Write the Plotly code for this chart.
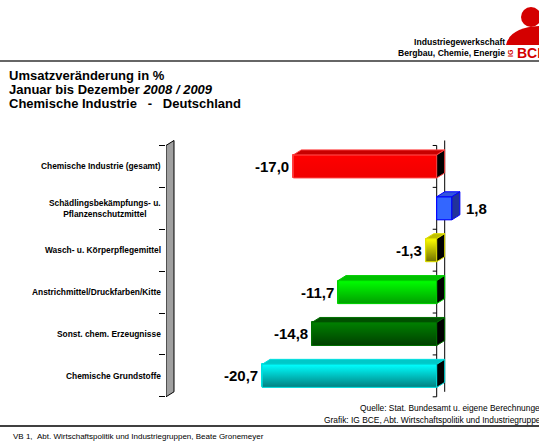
import plotly.graph_objects as go

# ---------------- data ----------------
categories = [
    "Chemische Industrie (gesamt)",
    "Schädlingsbekämpfungs- u.<br>Pflanzenschutzmittel",
    "Wasch- u. Körperpflegemittel",
    "Anstrichmittel/Druckfarben/Kitte",
    "Sonst. chem. Erzeugnisse",
    "Chemische Grundstoffe",
]
values = [-17.0, 1.8, -1.3, -11.7, -14.8, -20.7]

front_top = ["#FF0000", "#3366FF", "#FFFF00", "#00FF00", "#008000", "#00FFFF"]
front_bottom = ["#F00000", "#3366FF", "#707000", "#00A000", "#004000", "#008080"]
edge_colors = ["#FF4040", "#0000FF", "#E0E000", "#00D000", "#007000", "#00E0E0"]
top_colors = ["#C80000", "#3355DD", "#BDBD00", "#00C000", "#005000", "#00C8C8"]
side_colors = ["#000000", "#22339A", "#000000", "#000000", "#000000", "#000000"]

# ---------------- geometry ----------------
W, H = 539, 443
ML, MR, MT, MB = 166, 34, 135, 42
PW, PH = W - ML - MR, H - MT - MB
X_RANGE = [-32.1, 8.1]
Y_RANGE = [-0.6, 5.75]
XS = PW / (X_RANGE[1] - X_RANGE[0])   # px per unit
YS = PH / (Y_RANGE[1] - Y_RANGE[0])
DX = 8 / XS        # 3D depth
DY = 5 / YS
BW = 0.55          # bar thickness (category units)

n = len(categories)
ypos = [n - 1 - i for i in range(n)]


def px(x):
    return (x - ML) / PW


def py(y):
    return 1 - (y - MT) / PH


FONT = "Liberation Sans, Arial, sans-serif"

fig = go.Figure()

# base bars (front faces)
fig.add_trace(go.Bar(
    x=values, y=ypos, orientation="h", width=BW,
    marker=dict(color=front_top, line=dict(color=edge_colors, width=1)),
    hoverinfo="skip", showlegend=False,
))

for i, v in enumerate(values):
    yc = ypos[i]
    yb, yt = yc - BW / 2, yc + BW / 2
    x0, x1 = min(0, v), max(0, v)
    # gradient front face
    fig.add_trace(go.Scatter(
        x=[x0, x1, x1, x0, x0], y=[yb, yb, yt, yt, yb],
        mode="lines", fill="toself",
        fillgradient=dict(type="vertical",
                          colorscale=[[0, front_bottom[i]], [1, front_top[i]]]),
        line=dict(color=edge_colors[i], width=1),
        hoverinfo="skip", showlegend=False,
    ))
    # top face
    fig.add_trace(go.Scatter(
        x=[x0, x0 + DX, x1 + DX, x1, x0], y=[yt, yt + DY, yt + DY, yt, yt],
        mode="lines", fill="toself", fillcolor=top_colors[i],
        line=dict(color=edge_colors[i], width=1),
        hoverinfo="skip", showlegend=False,
    ))
    # side face
    fig.add_trace(go.Scatter(
        x=[x1, x1 + DX, x1 + DX, x1, x1], y=[yb, yb + DY, yt + DY, yt, yb],
        mode="lines", fill="toself", fillcolor=side_colors[i],
        line=dict(color=edge_colors[i], width=1),
        hoverinfo="skip", showlegend=False,
    ))

shapes = []
# gray floor / wall on the left
wx = X_RANGE[0]
shapes.append(dict(
    type="path", xref="x", yref="y", layer="below",
    path=f"M {wx},{-0.5} L {wx},{n - 0.5} L {wx + DX},{n - 0.5 + DY} L {wx + DX},{-0.5 + DY} Z",
    fillcolor="#A0A0A0", line=dict(color="#000000", width=1),
))
# front zero line and its ticks
shapes.append(dict(type="line", xref="x", yref="y", layer="below",
                   x0=0, x1=0, y0=-0.5, y1=n - 0.5,
                   line=dict(color="#000000", width=1)))
for k in range(n + 1):
    shapes.append(dict(type="line", xref="x", yref="y", layer="below",
                       x0=-4 / XS, x1=0, y0=k - 0.5, y1=k - 0.5,
                       line=dict(color="#000000", width=1)))
# back zero line
shapes.append(dict(type="line", xref="x", yref="y", layer="below",
                   x0=DX, x1=DX, y0=-0.5 + DY, y1=n - 0.5 + DY,
                   line=dict(color="#000000", width=1)))

# page rules
shapes.append(dict(type="line", xref="paper", yref="paper",
                   x0=px(0), x1=px(539), y0=py(61), y1=py(61),
                   line=dict(color="#333333", width=1.5)))
shapes.append(dict(type="line", xref="paper", yref="paper",
                   x0=px(0), x1=px(539), y0=py(426), y1=py(426),
                   line=dict(color="#000000", width=1.5)))

# logo (decorative)
shapes.append(dict(type="circle", xref="paper", yref="paper",
                   x0=px(521), x1=px(541), y0=py(7), y1=py(27),
                   fillcolor="#D40000", line=dict(width=0)))
shapes.append(dict(type="path", xref="paper", yref="paper",
                   path=(f"M {px(506)},{py(45)} Q {px(510)},{py(27)} {px(541)},{py(26)} "
                         f"L {px(541)},{py(45)} Z"),
                   fillcolor="#D40000", line=dict(width=0)))

annotations = []
# category labels
for i, c in enumerate(categories):
    annotations.append(dict(
        text=c, xref="paper", x=0, xshift=-3, xanchor="right",
        yref="y", y=ypos[i], yanchor="middle", align="center",
        showarrow=False,
        font=dict(family=FONT, size=8.4, color="#000000", weight="bold"),
    ))
# value labels
for i, v in enumerate(values):
    label = f"{v:.1f}".replace(".", ",")
    if v < 0:
        annotations.append(dict(text=label, xref="x", x=v, xshift=-2, xanchor="right",
                                yref="y", y=ypos[i], yanchor="middle", showarrow=False,
                                font=dict(family=FONT, size=15, color="#000000", weight="bold")))
    else:
        annotations.append(dict(text=label, xref="x", x=v + DX, xshift=4, xanchor="left",
                                yref="y", y=ypos[i], yanchor="middle", showarrow=False,
                                font=dict(family=FONT, size=15, color="#000000", weight="bold")))

# titles
title_lines = [
    "Umsatzveränderung in %",
    "Januar bis Dezember <i>2008 / 2009</i>",
    "Chemische Industrie \u00a0 - \u00a0 Deutschland",
]
for j, t in enumerate(title_lines):
    annotations.append(dict(text=t, xref="paper", yref="paper", x=px(7), y=py(75 + 14.2 * j),
                            xanchor="left", yanchor="middle", showarrow=False,
                            font=dict(family=FONT, size=13, color="#000000", weight="bold")))

# header
annotations.append(dict(text="Industriegewerkschaft", xref="paper", yref="paper",
                        x=px(507), y=py(42), xanchor="right", yanchor="middle", showarrow=False,
                        font=dict(family=FONT, size=8.6, color="#000000", weight="bold")))
annotations.append(dict(text="Bergbau, Chemie, Energie", xref="paper", yref="paper",
                        x=px(507), y=py(53), xanchor="right", yanchor="middle", showarrow=False,
                        font=dict(family=FONT, size=8.6, color="#000000", weight="bold")))
annotations.append(dict(text="BCE", xref="paper", yref="paper",
                        x=px(515), y=py(53), xanchor="left", yanchor="middle", showarrow=False,
                        font=dict(family=FONT, size=14, color="#D40000", weight="bold")))
annotations.append(dict(text="IG", xref="paper", yref="paper", textangle=-90,
                        x=px(511), y=py(53), xanchor="center", yanchor="middle", showarrow=False,
                        font=dict(family=FONT, size=7, color="#D40000", weight="bold")))

# footer
annotations.append(dict(text="Quelle: Stat. Bundesamt u. eigene Berechnungen", xref="paper", yref="paper",
                        x=px(547), y=py(408), xanchor="right", yanchor="middle", showarrow=False,
                        font=dict(family=FONT, size=8.4, color="#000000")))
annotations.append(dict(text="Grafik: IG BCE, Abt. Wirtschaftspolitik und Industriegruppen", xref="paper", yref="paper",
                        x=px(547), y=py(420), xanchor="right", yanchor="middle", showarrow=False,
                        font=dict(family=FONT, size=8.4, color="#000000")))
annotations.append(dict(text="VB 1, \u00a0Abt. Wirtschaftspolitik und Industriegruppen, Beate Gronemeyer",
                        xref="paper", yref="paper",
                        x=px(11), y=py(436), xanchor="left", yanchor="middle", showarrow=False,
                        font=dict(family=FONT, size=8, color="#000000")))

fig.update_layout(
    width=W, height=H, autosize=False,
    margin=dict(l=ML, r=MR, t=MT, b=MB, pad=0),
    paper_bgcolor="#FFFFFF", plot_bgcolor="rgba(0,0,0,0)",
    showlegend=False, bargap=0,
    xaxis=dict(range=X_RANGE, visible=False, fixedrange=True),
    yaxis=dict(range=Y_RANGE, showgrid=False, zeroline=False, showline=False,
               tickmode="array", tickvals=[k - 0.5 for k in range(n + 1)],
               ticktext=[""] * (n + 1), ticks="outside", ticklen=6,
               tickcolor="#000000", tickwidth=1, showticklabels=False, fixedrange=True),
    shapes=shapes, annotations=annotations,
)

fig.write_html(
    "out.html",
    config={"displayModeBar": False},
    post_script="document.body.style.margin='0px';document.body.style.padding='0px';",
)
